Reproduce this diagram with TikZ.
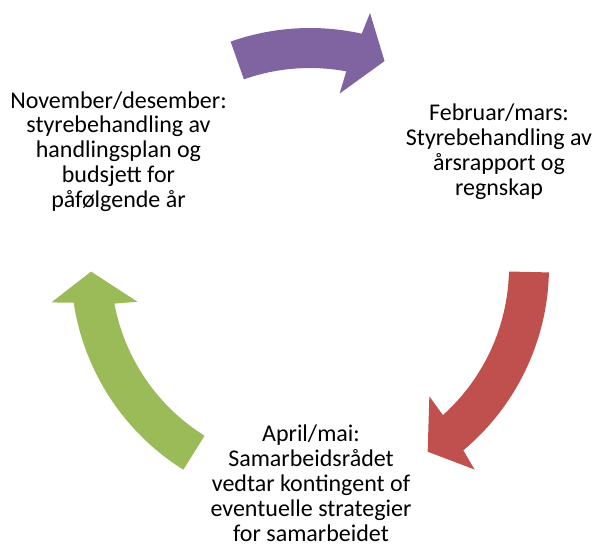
\documentclass[tikz,border=0pt]{standalone}
\usepackage{fontspec}
\setmainfont{Carlito}
\definecolor{cpurple}{RGB}{128,100,162}
\definecolor{cred}{RGB}{192,80,77}
\definecolor{cgreen}{RGB}{155,187,89}
% #1 tail angle, #2 inner notch angle, #3 colour
\newcommand{\cycarrow}[3]{%
  \fill[#3] (#1:199) -- (#1:239)
    arc[start angle=#1, end angle={#2-2}, radius=239]
    -- ({#2-2.8}:261) -- ({#2-9.4}:219) -- ({#2+0.8}:176)
    -- (#2:199)
    arc[start angle=#2, end angle=#1, radius=199] -- cycle;}
\begin{document}
\begin{tikzpicture}[x=1pt,y=1pt,
  lbl/.style={align=center, inner sep=0pt, font=\fontsize{24}{25}\selectfont, text=black}]
\useasboundingbox (0,0) rectangle (600,-548);
\begin{scope}[shift={(310,-267)}]
  \cycarrow{109.4}{79.5}{cpurple}
  \cycarrow{-1.3}{-48.1}{cred}
  \cycarrow{238}{190.6}{cgreen}
\end{scope}
\node[lbl, anchor=base] (nov) at (118.5,-208) {November/desember:\\styrebehandling av\\handlingsplan og\\budsjett for\\påfølgende år};
\node[lbl, anchor=base] (feb) at (499,-195.5) {Februar/mars:\\Styrebehandling av\\årsrapport og\\regnskap};
\node[lbl, anchor=base] (apr) at (311,-541.7) {April/mai:\\Samarbeidsrådet\\vedtar kontingent of\\eventuelle strategier\\for samarbeidet};
\end{tikzpicture}
\end{document}
